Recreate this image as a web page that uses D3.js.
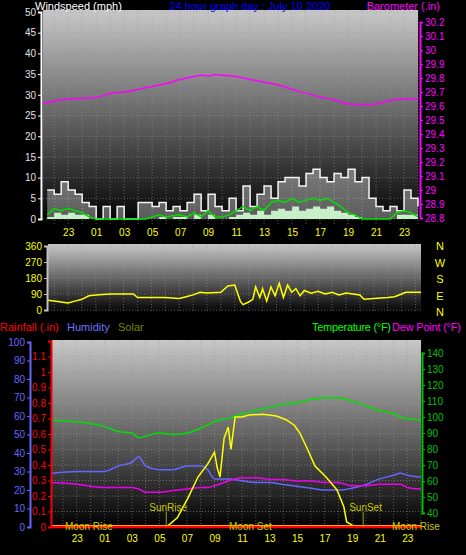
<!DOCTYPE html><html><head><script src="https://cdn.jsdelivr.net/npm/d3@7"></script>
<style>body{margin:0;background:#000}svg{display:block;font-family:"Liberation Sans",Arial,sans-serif}</style></head><body><svg id="c" width="466" height="555"></svg>
<script>
const hourTicks=[23,25,27,29,31,33,35,37,39,41,43,45,47];
const tickLabel=h=>String(h%24).padStart(2,"0");
const windT=[21.5,22,22.5,23,23.5,24,24.5,25,25.5,26,26.5,27,27.5,28,28.5,29,29.5,30,30.5,31,31.5,32,32.5,33,33.5,34,34.5,35,35.5,36,36.5,37,37.5,38,38.5,39,39.5,40,40.5,41,41.5,42,42.5,43,43.5,44,44.5,45,45.5,46,46.5,47,47.5,48];
const windGust=[7,6,9,7,6,4,3,0,3,0,3,0,0,4,4,3,4,2,3,2,4,6,2,6,3,2,5,2,8,3,6,8,5,9,10,10,8,11,12,10,9,11,10,12,9,10,5,3,2,3,2,7,5,3];
const windAvg=[1,2.5,2,2.5,2,1.5,0.5,0,0,0,0,0,0,0,0,0.5,1,0.5,0.8,1,0.5,1.5,0.5,2,0.5,0.5,1,2,3,2,3,2,4,4.5,4,5,4,4.5,5,4.5,5,4,3,1.5,1,0,0,0,0,0,1.5,2,1.5,0.5];
const windLull=[0.5,1.5,1,1.5,1,1,0,0,0,0,0,0,0,0,0,0,0.5,0,0.5,0.5,0,1,0,1,0,0,0.5,1,1.5,1,2,1,2,2.5,2,3,2,2.5,3,2.5,3,2,1.5,1,0.5,0,0,0,0,0,1,1,1,0];
const baroT=[21.2,23,25,26,27,28,29,30,31,32,32.5,33,33.5,34,35,36,37,38,39,40,41,42,43,44,45,46,47,48];
const baro=[29.62,29.65,29.66,29.69,29.70,29.72,29.74,29.76,29.79,29.81,29.82,29.815,29.825,29.82,29.81,29.79,29.77,29.75,29.72,29.69,29.665,29.645,29.615,29.61,29.615,29.64,29.65,29.65];
const dirT=[21.56,22,22.5,23,23.5,24,24.5,25,26,27,27.7,28,28.5,29,30,31,31.5,32,32.5,33,34,34.5,35,35.4,35.6,36,36.3,36.5,36.8,37,37.3,37.6,37.9,38.2,38.5,38.8,39.1,39.4,39.7,40,40.5,41,41.5,42,42.5,43,43.5,44,44.3,45,46,46.5,47,47.3,48.4];
const dir=[55,50,45,40,50,60,80,85,90,90,90,70,70,70,70,65,75,85,100,95,100,135,140,50,30,45,60,130,70,120,50,130,80,150,70,140,100,120,80,110,95,105,90,100,85,95,90,85,60,65,70,75,90,100,100];
const thT=[21.2,23,25,26,27,27.5,28,29,30,31,32,32.5,33,34,35,36,37,38,39,40,41,42,43,44,45,46,46.5,47,48];
const temp=[98,97,94,91,90,87,88,90,89,90,93,95,97,99,102,104,106,108,109,111,112,112,110,107,104,102,100,99,98];
const hum=[29,30,30,33,35,38,33,31,31,33,33,31,26,26,25,24,24,23,22,21,20,20,21,23,26,28,29,28,27];
const dew=[59,58,56,56,56,55,53,53,54,55,56,56,57,60,62,62,61,61,60,60,59,59,57,57,58,58,58,56,55];
const solarT=[21.2,29.5,30.3,31.1,31.8,32.5,33,33.2,33.4,33.7,34,34.2,34.5,35,35.5,36.5,37.5,38.2,38.8,39.2,39.7,40.3,41.1,41.9,42.4,42.6,43,43.7,48];
const solar=[0,0,50,160,270,340,405,320,270,480,540,420,595,595,605,610,600,580,550,508,430,330,270,200,108,27,10,0,0];
const windTicks=[0,5,10,15,20,25,30,35,40,45,50];
const baroTicks=[28.8,28.9,29,29.1,29.2,29.3,29.4,29.5,29.6,29.7,29.8,29.9,30,30.1,30.2];
const dirTicks=[0,90,180,270,360];
const compass=["N","W","S","E","N"];
const humTicks=[0,10,20,30,40,50,60,70,80,90,100];
const rainTicks=[0,0.1,0.2,0.3,0.4,0.5,0.6,0.7,0.8,0.9,1,1.1];
const tempTicks=[40,50,60,70,80,90,100,110,120,130,140];

const svg=d3.select("#c");
const defs=svg.append("defs");
const g=defs.append("linearGradient").attr("id","bg").attr("x1",0).attr("x2",0).attr("y1",0).attr("y2",1);
g.append("stop").attr("offset","0%").attr("stop-color","#c8c8c8");
g.append("stop").attr("offset","100%").attr("stop-color","#000");
const F="10px";
function panel(x,y0,y1,xs,hTicks,hScale){
  svg.append("rect").attr("x",xs.range()[0]).attr("y",y0).attr("width",xs.range()[1]-xs.range()[0]).attr("height",y1-y0).attr("fill","url(#bg)");
  const gr=svg.append("g").attr("stroke","#999").attr("stroke-opacity",0.55).attr("stroke-dasharray","1,2");
  for(let h=22;h<=48;h++) gr.append("line").attr("x1",xs(h)).attr("x2",xs(h)).attr("y1",y0).attr("y2",y1);
  hTicks.forEach(t=>gr.append("line").attr("x1",xs.range()[0]).attr("x2",xs.range()[1]).attr("y1",hScale(t)).attr("y2",hScale(t)));
}
function xAxis(xs,y){
  const a=svg.append("g").attr("transform",`translate(0,${y})`).call(d3.axisBottom(xs).tickValues(hourTicks).tickFormat(tickLabel).tickSize(0).tickPadding(0));
  a.select(".domain").remove();
  a.selectAll("text").attr("fill","#ffff00").attr("font-size",F).attr("font-family","Liberation Sans");
}
function yAxis(sc,x,ticks,col,fmt,left,textCol){
  const ax=(left?d3.axisLeft(sc):d3.axisRight(sc)).tickValues(ticks).tickFormat(fmt).tickSize(3).tickPadding(2);
  const a=svg.append("g").attr("transform",`translate(${x},0)`).call(ax);
  a.select(".domain").attr("stroke",col).attr("stroke-width",2);
  a.selectAll("line").attr("stroke",col);
  a.selectAll("text").attr("fill",textCol||col).attr("font-size",F).attr("font-family","Liberation Sans");
}
function txt(x,y,s,col,anchor){return svg.append("text").attr("x",x).attr("y",y).attr("fill",col).attr("font-size","11px").attr("text-anchor",anchor||"start").text(s);}

const x1=d3.scaleLinear().domain([21.2,48]).range([43,418]);
const yW=d3.scaleLinear().domain([0,50]).range([219,12]);
const yB=d3.scaleLinear().domain([28.8,30.2]).range([218,22]);
panel(0,10,224,x1,windTicks,yW);
svg.append("path").datum(windT.map((t,i)=>[t,windGust[i]])).attr("d",d3.area().x(d=>x1(d[0])).y0(yW(0)).y1(d=>yW(d[1])).curve(d3.curveStepAfter)).attr("fill","#ffffff").attr("fill-opacity",0.35);
svg.append("path").datum(windT.map((t,i)=>[t,windGust[i]])).attr("d",d3.line().x(d=>x1(d[0])).y(d=>yW(d[1])).curve(d3.curveStepAfter)).attr("fill","none").attr("stroke","#f4f4f4").attr("stroke-width",1.5);
svg.append("path").datum(windT.map((t,i)=>[t,windLull[i]])).attr("d",d3.area().x(d=>x1(d[0])).y0(yW(0)).y1(d=>yW(d[1])).curve(d3.curveStepAfter)).attr("fill","#c8f0c8");
svg.append("path").datum(windT.map((t,i)=>[t,windAvg[i]])).attr("d",d3.line().x(d=>x1(d[0])).y(d=>yW(d[1]))).attr("fill","none").attr("stroke","#00e000").attr("stroke-width",1.5);
svg.append("path").datum(baroT.map((t,i)=>[t,baro[i]])).attr("d",d3.line().x(d=>x1(d[0])).y(d=>yB(d[1])).curve(d3.curveMonotoneX)).attr("fill","none").attr("stroke","#ff00ff").attr("stroke-width",1.5);
yAxis(yW,41,windTicks,"#ffffff",d3.format("d"),true,"#e0e0e0");
yAxis(yB,420,baroTicks,"#ff00ff",d=>d3.format(".1f")(d).replace(/\.0$/,""),false);
xAxis(x1,229);
txt(35,10,"Windspeed (mph)","#fff");
txt(250,10,"24 hour graph day : July 10 2020","#0000ff","middle");
txt(440,10,"Barometer (.in)","#ff00ff","end");

const x2=d3.scaleLinear().domain([21.56,48.4]).range([48,421]);
const yD=d3.scaleLinear().domain([0,360]).range([310,246]);
panel(0,244,313,x2,dirTicks,yD);
svg.append("path").datum(dirT.map((t,i)=>[t,dir[i]])).attr("d",d3.line().x(d=>x2(d[0])).y(d=>yD(d[1]))).attr("fill","none").attr("stroke","#ffff00").attr("stroke-width",1.5);
yAxis(yD,47,dirTicks,"#c0c0c0",d3.format("d"),true,"#ffff00");
compass.forEach((c,i)=>svg.append("text").attr("x",440).attr("y",250+i*16.5).attr("fill","#ffff00").attr("font-size","11px").attr("text-anchor","middle").text(c));
txt(0,331,"Rainfall (.in)","#ff0000");
txt(67,331,"Humidity","#7070ff");
txt(118,331,"Solar","#808000");
txt(312,331,"Temperature (°F)","#00ff00").attr("textLength",79);
txt(392,331,"Dew Point (°F)","#ff00ff").attr("textLength",69);

const x3=d3.scaleLinear().domain([21.2,48]).range([52,421]);
const yH=d3.scaleLinear().domain([0,100]).range([527,342]);
const yR=d3.scaleLinear().domain([0,1.2]).range([527,341]);
const yT=d3.scaleLinear().domain([40,140]).range([513,353]);
const yS=d3.scaleLinear().domain([0,1000]).range([527,342]);
panel(0,340,528,x3,rainTicks,yR);
const ln=(xs,ys,sc,col,w,curve)=>svg.append("path").datum(xs.map((t,i)=>[t,ys[i]])).attr("d",d3.line().x(d=>x3(d[0])).y(d=>sc(d[1])).curve(curve||d3.curveLinear)).attr("fill","none").attr("stroke",col).attr("stroke-width",w);
ln(thT,temp,yT,"#00e000",1.5,d3.curveMonotoneX);
ln(thT,hum,yH,"#6666ff",1.5,d3.curveMonotoneX);
ln(thT,dew,yT,"#ee00ee",1.5,d3.curveMonotoneX);
ln(solarT,solar,yS,"#ffff00",1.5);
svg.append("line").attr("x1",x3(21.2)).attr("x2",x3(48)).attr("y1",yR(0)).attr("y2",yR(0)).attr("stroke","#ff0000").attr("stroke-width",2.5);
svg.append("line").attr("x1",x3(21.2)).attr("x2",x3(48)).attr("y1",yR(0)-1.5).attr("y2",yR(0)-1.5).attr("stroke","#ffa500").attr("stroke-width",1);
[[29.5,"SunRise",-17],[43.8,"SunSet",-14]].forEach(([h,s,dx])=>{
  svg.append("line").attr("x1",x3(h)).attr("x2",x3(h)).attr("y1",512).attr("y2",527).attr("stroke","#a0a000");
  svg.append("text").attr("x",x3(h)+dx).attr("y",511).attr("fill","#c8c800").attr("font-size","10px").text(s);
});
[[65,"Moon Rise"],[229,"Moon Set"],[392,"Moon Rise"]].forEach(([x,s])=>svg.append("text").attr("x",x).attr("y",530).attr("fill","#c8c800").attr("font-size","10px").text(s));
yAxis(yH,30,humTicks,"#6666ff",d3.format("d"),true);
yAxis(yR,51,rainTicks,"#ff0000",d=>d===0?"0":d3.format(".1f")(d).replace(/\.0$/,""),true);
yAxis(yT,422,tempTicks,"#00c000",d3.format("d"),false,"#00c000");
xAxis(x3,535);
</script></body></html>
